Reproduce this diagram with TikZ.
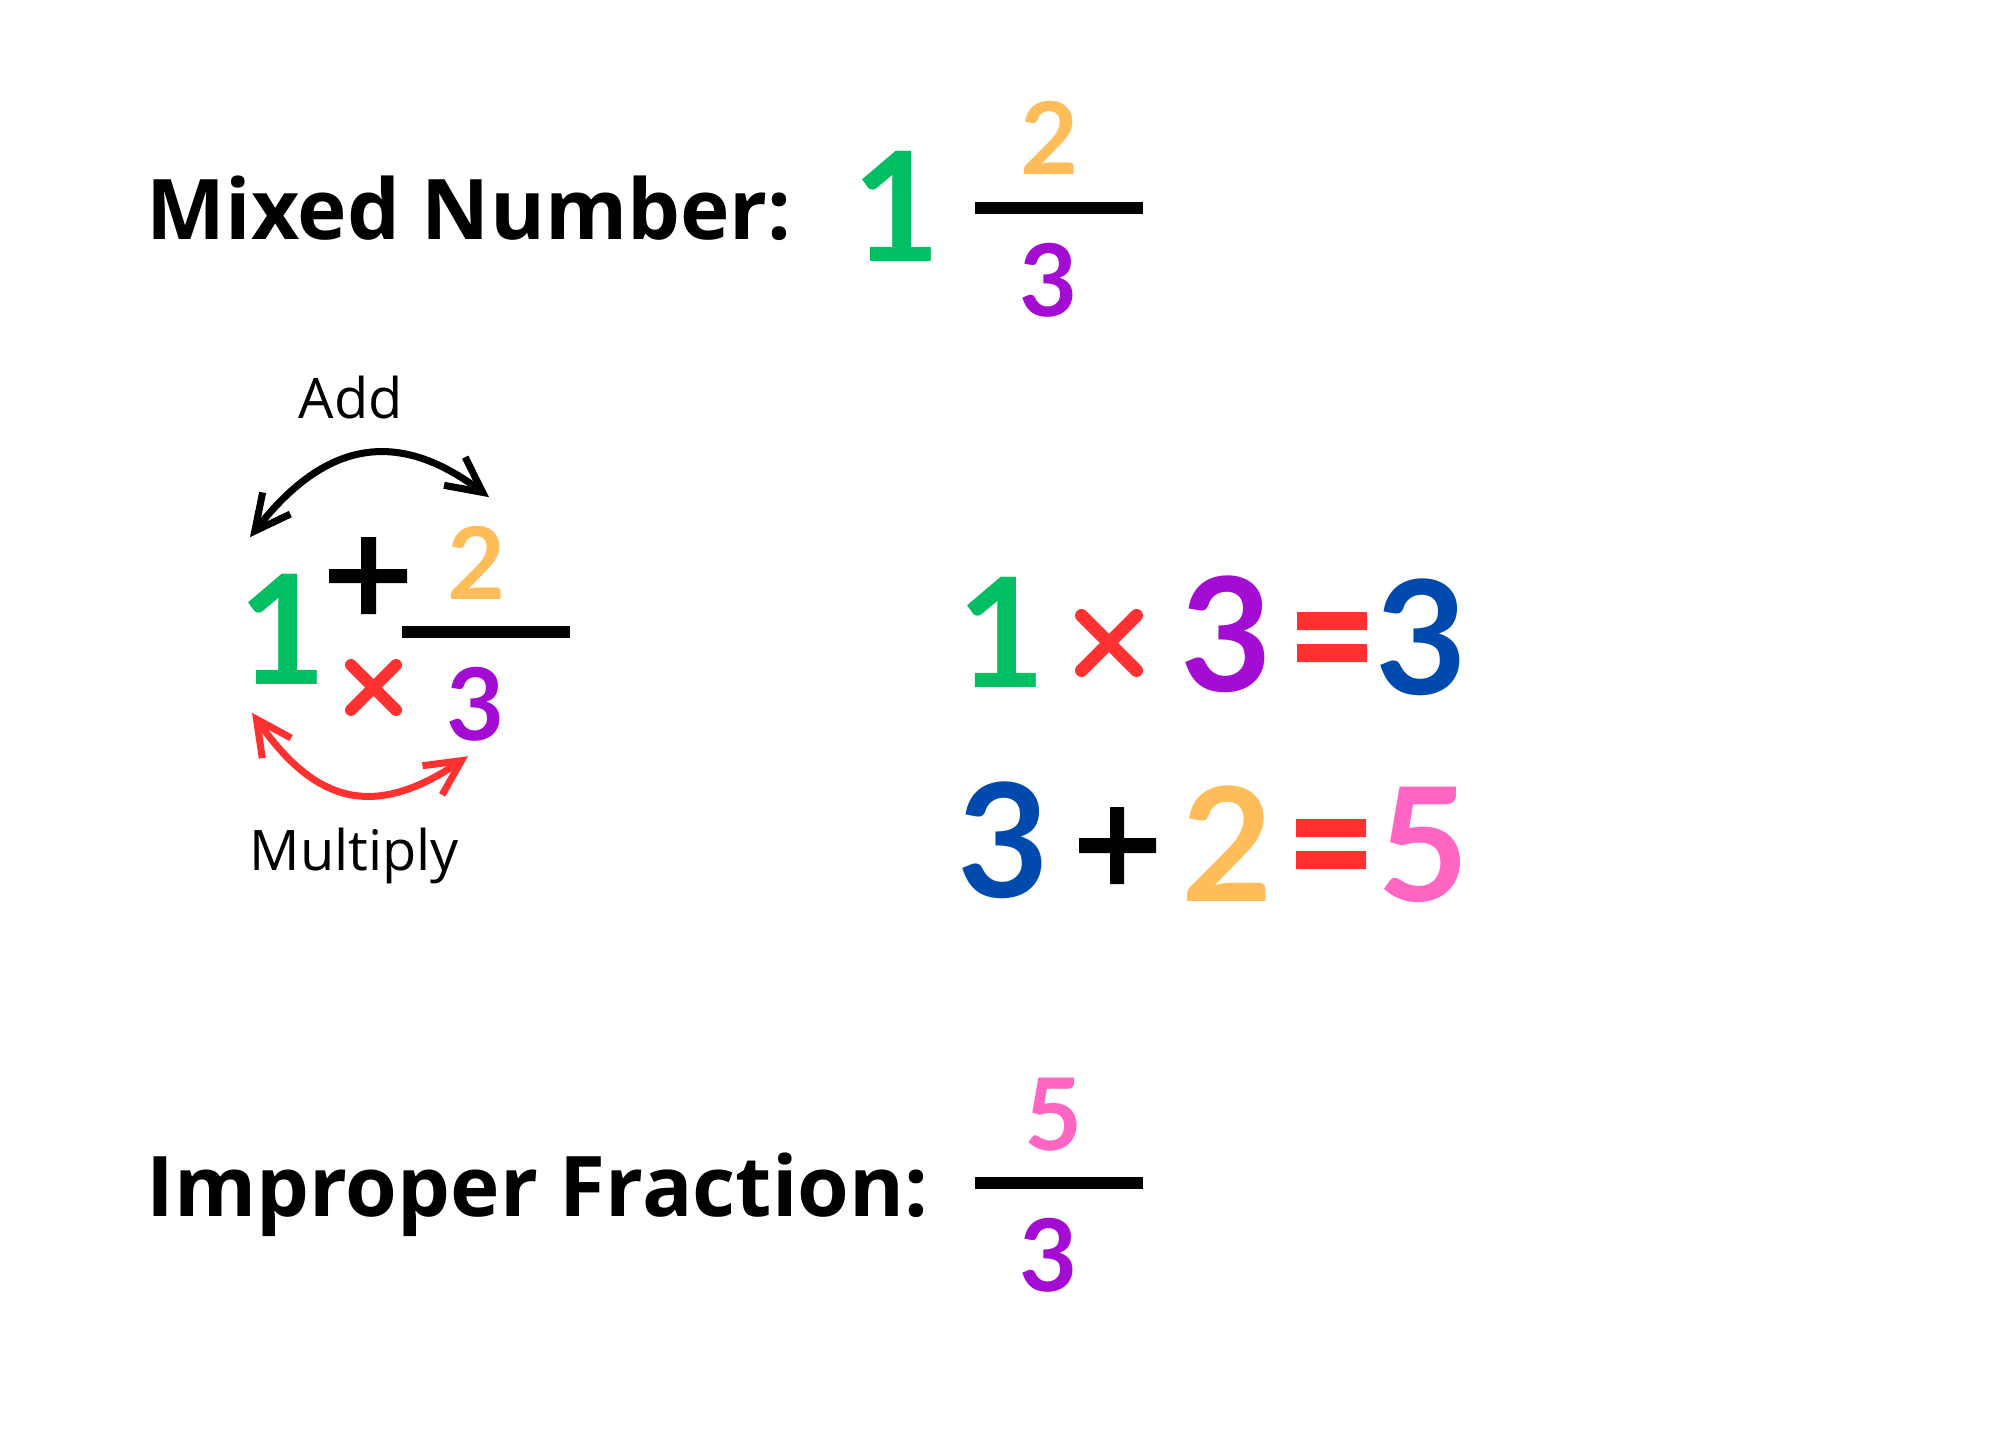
\documentclass[tikz,border=0pt]{standalone}
\usepackage{fontspec}
\setmainfont{Open Sans}
\newfontfamily\numfont{Lato}
\usetikzlibrary{arrows.meta,calc}
\definecolor{numgreen}{HTML}{00BF63}
\definecolor{numorange}{HTML}{FFBD59}
\definecolor{numpurple}{HTML}{A30CD3}
\definecolor{numblue}{HTML}{004AAD}
\definecolor{numred}{HTML}{FF3131}
\definecolor{numpink}{HTML}{FF66C4}
\begin{document}
\begin{tikzpicture}[x=0.01cm,y=-0.01cm,line join=round,line cap=round,>={Straight Barb[length=10pt,width=10pt]}]
\tikzset{every node/.style={inner sep=0pt},
	heading/.style={anchor=base west,font=\bfseries\fontsize{23.8}{30}\selectfont},
	note/.style={anchor=base west,font=\fontsize{15.9}{20}\selectfont},
	bignum/.style={font=\numfont\bfseries\fontsize{43.3}{50}\selectfont},
	eqnum/.style={font=\numfont\bfseries\fontsize{45}{50}\selectfont},
	fracnum/.style={font=\numfont\bfseries\fontsize{28.5}{34}\selectfont},
	fracbar/.style={line width=3.4pt,line cap=butt}}
\useasboundingbox (0,0) rectangle (2000,1455);
% mixed number
\node[heading] (mixlab) at (146,240) {Mixed Number:};
\node[bignum,text=numgreen] (mixone) at (896.5,206.5) {1};
\node[fracnum,text=numorange] (mixtwo) at (1050,138) {2};
\node[fracnum,text=numpurple] (mixthree) at (1048.5,280) {3};
\foreach \y in {208,1183}
\draw[fracbar] (975,\y)--(1143,\y);
% the rule
\node[bignum,text=numgreen] (oneL) at (283,629) {1};
\node[fracnum,text=numorange] (twoL) at (477,562.5) {2};
\node[fracnum,text=numpurple] (threeL) at (475.5,704.5) {3};
\draw[fracbar] (402,632)--(570,632);
\fill (329,569) rectangle (407,583) (361,537) rectangle (376,614);
\draw[numred,line width=3.4pt] (351,665)--(396,710) (351,710)--(396,665);
\node[note] (addlab) at (298,419) {Add};
\node[note] (mullab) at (249,870) {Multiply};
\draw[<->,line width=2pt] ($(oneL.north)+(-33,-36)$) to[out=52,in=143,looseness=1.25] ($(twoL.north)+(12,-28)$);
\draw[<->,numred,line width=2pt] ($(oneL.south)+(-31,28)$) to[out=-55,in=-146,looseness=1.3] ($(threeL.south)+(-7.5,14)$);
% 1 x 3 = 3
\node[bignum,text=numgreen] (eqone) at (1001.5,632.5) {1};
\draw[numred,line width=3.7pt] (1081.5,615.5)--(1136.5,670.5) (1081.5,670.5)--(1136.5,615.5);
\node[eqnum,text=numpurple] (eqthree) at (1226.5,634) {3};
\fill[numred] (1297,612) rectangle (1367,630) (1297,644) rectangle (1367,662);
\node[eqnum,text=numblue] (eqres) at (1421.5,637) {3};
% 3 + 2 = 5
\node[eqnum,text=numblue] (sumthree) at (1003.5,840.5) {3};
\fill (1079,838) rectangle (1156,853) (1110,807) rectangle (1124,884);
\node[eqnum,text=numorange] (sumtwo) at (1227,844) {2};
\fill[numred] (1296,819) rectangle (1366,837) (1296,851) rectangle (1366,869);
\node[eqnum,text=numpink] (sumres) at (1423,844.5) {5};
% improper fraction
\node[heading] (implab) at (146,1216) {Improper Fraction:};
\node[fracnum,text=numpink] (impfive) at (1053.5,1115) {5};
\node[fracnum,text=numpurple] (impthree) at (1048.5,1255) {3};
\end{tikzpicture}
\end{document}
